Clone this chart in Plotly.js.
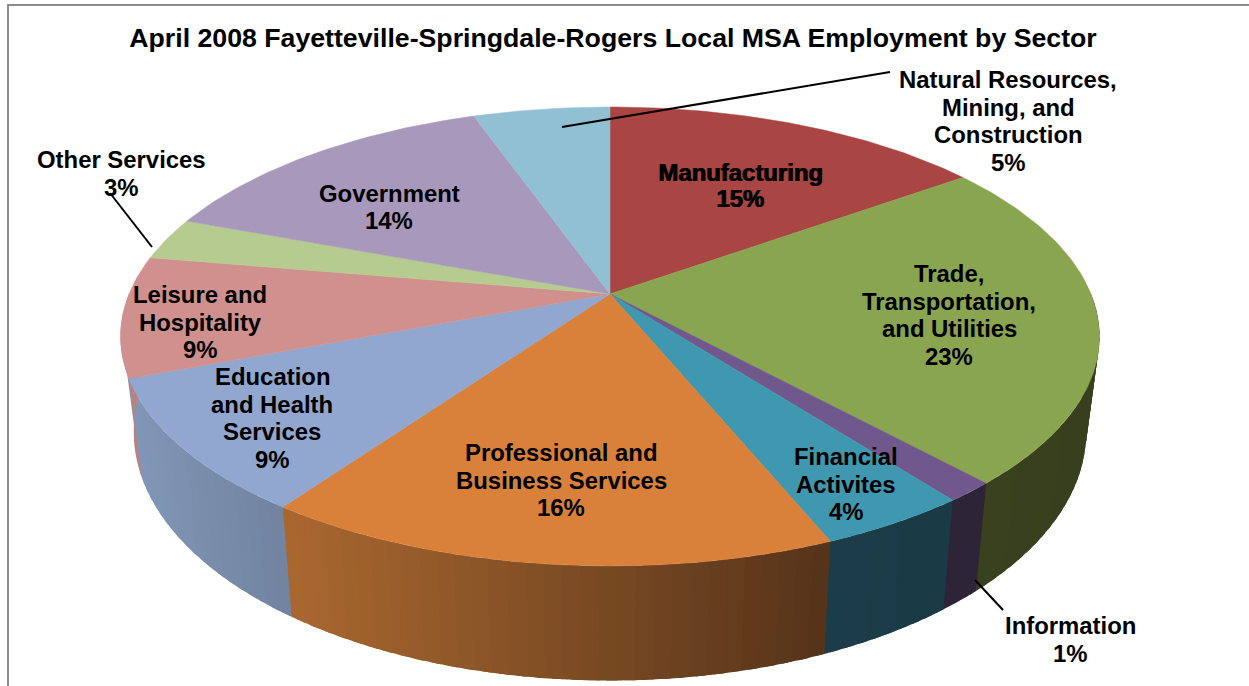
<!DOCTYPE html>
<html>
<head>
<meta charset="utf-8">
<script src="https://cdn.plot.ly/plotly-3.0.1.min.js"></script>
<style>html,body{margin:0;padding:0;background:#fff}#chart{width:1249px;height:686px}</style>
</head>
<body>
<div id="chart"></div>
<script>
// Data (share of employment, %, clockwise from 12 o'clock)
const sectors = ["Manufacturing","Trade, Transportation, and Utilities","Information","Financial Activites","Professional and Business Services","Education and Health Services","Leisure and Hospitality","Other Services","Government","Natural Resources, Mining, and Construction"];
const shares = [15.1,23.1,1.4,4.2,16.0,9.4,8.5,3.0,13.9,5.4];
const labelLines = [["Manufacturing","15%"],["Trade,","Transportation,","and Utilities","23%"],["Information","1%"],["Financial","Activites","4%"],["Professional and","Business Services","16%"],["Education","and Health","Services","9%"],["Leisure and","Hospitality","9%"],["Other Services","3%"],["Government","14%"],["Natural Resources,","Mining, and","Construction","5%"]];

// Styles
const topColors = ["#a94543","#8aa550","#70588c","#3f97b0","#d9813b","#91a7cf","#cf908e","#b6cb8f","#a898bb","#92c0d3"];
const wallLeft  = ["#6b2b2a","#3a411f","#2d2438","#1b3d49","#aa6830","#8197b7","#bb8180","#8a9a6a","#7a6e8a","#6a8a98"];
const wallRight = ["#6b2b2a","#383f1e","#2d2438","#1a3a45","#55331a","#71839f","#bb8180","#8a9a6a","#7a6e8a","#6a8a98"];
const labelX = [740,949,1070,846,561,272,200,121,389,1008];
const labelY = [185,315,639,484,480,418,322,173,207,121];
const labelGap = [26,27.5,28,27.5,27.5,27.5,27.5,28,27.5,27.5];

// Projection of the tilted pie onto the axes
const cx = 610, k = 0.185;
const topFace = {A:481, B:221.6, y0:294};
const baseFace = {A:468, B:240, y0:386};
function rim(face, pct){
  const th = pct/100*2*Math.PI, w = 1 + k*Math.cos(th);
  return [cx + face.A*Math.sin(th)/w, face.y0 - face.B*Math.cos(th)/w];
}
function hex(c){return [1,3,5].map(i=>parseInt(c.substr(i,2),16));}
function mix(a,b,t){const p=hex(a),q=hex(b);return "rgb("+p.map((v,i)=>Math.round(v+(q[i]-v)*t)).join(",")+")";}

const total = shares.reduce((a,b)=>a+b,0);
const bounds = [0];
shares.forEach(s=>bounds.push(bounds[bounds.length-1]+s/total*100));

const traces = [];
function poly(xs,ys,color,edge){
  traces.push({type:"scatter",mode:edge?"lines":"none",x:xs,y:ys,fill:"toself",fillcolor:color,
    line:{color:color,width:edge?0.5:0},hoverinfo:"skip",showlegend:false});
}
// Side wall: strips along the visible front half; each one overlaps the next to avoid seams
function wallStrip(p,q,color){
  const xs=[],ys=[],n=Math.max(2,Math.ceil((q-p)/0.1));
  for(let j=0;j<=n;j++){const r=rim(topFace,p+(q-p)*j/n);xs.push(r[0]);ys.push(r[1]);}
  for(let j=n;j>=0;j--){const r=rim(baseFace,p+(q-p)*j/n);xs.push(r[0]);ys.push(r[1]);}
  xs.push(xs[0]);ys.push(ys[0]);
  poly(xs,ys,color,false);
}
shares.forEach((s,i)=>{
  const a = Math.max(bounds[i],25), b = Math.min(bounds[i+1],75);
  if(b<=a) return;
  const n = wallLeft[i]===wallRight[i] ? 1 : Math.max(2,Math.ceil((b-a)/0.5));
  const xa = rim(topFace,a)[0], xb = rim(topFace,b)[0];
  for(let j=0;j<n;j++){
    const p = a+(b-a)*j/n, q = a+(b-a)*(j+1)/n;
    const t = ((rim(topFace,p)[0]+rim(topFace,q)[0])/2 - Math.min(xa,xb))/(Math.abs(xb-xa)||1);
    wallStrip(p,Math.min(q+0.3,75),mix(wallLeft[i],wallRight[i],t));
  }
});
// Top face wedges
shares.forEach((s,i)=>{
  const xs=[cx], ys=[topFace.y0];
  const n=Math.ceil(s/0.25);
  for(let j=0;j<=n;j++){
    const r=rim(topFace,bounds[i]+(bounds[i+1]-bounds[i])*j/n);
    xs.push(r[0]);ys.push(r[1]);
  }
  xs.push(cx);ys.push(topFace.y0);
  poly(xs,ys,topColors[i],true);
});
// Leader lines
const leaders = [[[890,562],[72,127]],[[110,152],[193,247]],[[975,1003],[580,610]]];
leaders.forEach(l=>traces.push({type:"scatter",mode:"lines",x:l[0],y:l[1],line:{color:"#000",width:2},hoverinfo:"skip",showlegend:false}));

const font = {family:"Liberation Sans, Arial, sans-serif",size:23.9,color:"#000"};
const heavyFont = Object.assign({},font,{shadow:"1px 0 0 #000"});
const annotations = [];
labelLines.forEach((lines,i)=>{
  lines.forEach((t,j)=>{
    const y = labelY[i]+(j-(lines.length-1)/2)*labelGap[i];
    annotations.push({x:labelX[i],y:y,xref:"x",yref:"y",text:"<b>"+t+"</b>",showarrow:false,font:i===0?heavyFont:font,align:"center",xanchor:"center",yanchor:"middle"});
  });
});

const layout = {
  width:1249,height:686,margin:{l:0,r:0,t:0,b:0},paper_bgcolor:"#fff",plot_bgcolor:"#fff",showlegend:false,
  title:{text:"<b>April 2008 Fayetteville-Springdale-Rogers Local MSA Employment by Sector</b>",font:{family:"Liberation Sans, Arial, sans-serif",size:26.7,color:"#000"},x:613/1249,xanchor:"center",y:1-38/686,yanchor:"middle"},
  xaxis:{range:[0,1249],visible:false,fixedrange:true},
  yaxis:{range:[686,0],visible:false,fixedrange:true},
  annotations:annotations,
  shapes:[
    {type:"line",xref:"x",yref:"y",x0:8,x1:8,y0:5,y1:686,line:{color:"#8c8c8c",width:2}},
    {type:"line",xref:"x",yref:"y",x0:7,x1:1249,y0:5,y1:5,line:{color:"#8c8c8c",width:2}}
  ]
};
Plotly.newPlot("chart",traces,layout,{displayModeBar:false,staticPlot:true});
</script>
</body>
</html>
